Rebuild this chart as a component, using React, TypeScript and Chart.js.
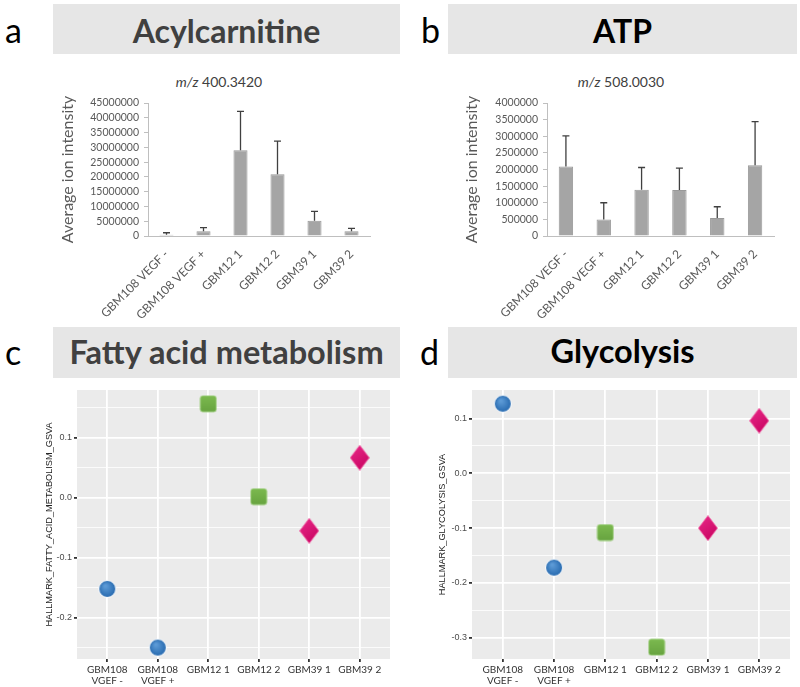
import React, { useEffect, useRef } from "react";
import { Chart, registerables } from "chart.js";

Chart.register(...registerables);

// ---------- data ----------
const barCategories = ["GBM108 VEGF -", "GBM108 VEGF +", "GBM12 1", "GBM12 2", "GBM39 1", "GBM39 2"];
const acylMeans = [450000, 1600000, 29050000, 20900000, 5200000, 1600000];
const acylErrors = [650000, 1200000, 13150000, 11200000, 3100000, 1000000];
const atpMeans = [2090000, 500000, 1390000, 1380000, 540000, 2130000];
const atpErrors = [920000, 500000, 670000, 660000, 340000, 1310000];

const scatterCategories: (string | string[])[] = [["GBM108", "VGEF -"], ["GBM108", "VGEF +"], "GBM12 1", "GBM12 2", "GBM39 1", "GBM39 2"];
const sampleGroups = [0, 0, 1, 1, 2, 2];
const fattyAcidGsva = [-0.152, -0.25, 0.157, 0.002, -0.055, 0.067];
const glycolysisGsva = [0.127, -0.172, -0.108, -0.317, -0.1, 0.096];

// ---------- plugins ----------
const errorBarPlugin = {
  id: "errorBars",
  afterDatasetsDraw(chart: any, _args: any, opts: any) {
    const ds = chart.data.datasets[0];
    const errs: number[] = opts.errors || [];
    const meta = chart.getDatasetMeta(0);
    const y = chart.scales.y;
    const ctx = chart.ctx;
    ctx.save();
    ctx.strokeStyle = "#404040";
    ctx.lineWidth = 1.3;
    meta.data.forEach((el: any, i: number) => {
      const top = y.getPixelForValue(ds.data[i] + errs[i]);
      ctx.beginPath();
      ctx.moveTo(el.x, el.y);
      ctx.lineTo(el.x, top);
      ctx.moveTo(el.x - 3.5, top);
      ctx.lineTo(el.x + 3.5, top);
      ctx.stroke();
    });
    ctx.restore();
  },
};

const panelBgPlugin = {
  id: "panelBg",
  beforeDraw(chart: any, _args: any, opts: any) {
    const { ctx, chartArea: a } = chart;
    if (!a) return;
    ctx.save();
    ctx.fillStyle = opts.color || "#ebebeb";
    ctx.fillRect(a.left, a.top, a.right - a.left, a.bottom - a.top);
    ctx.restore();
  },
};

// ---------- marker images ----------
function makeMarkers() {
  const circle = document.createElement("canvas");
  circle.width = 20; circle.height = 20;
  let c = circle.getContext("2d")!;
  let g = c.createRadialGradient(8, 7, 1, 10, 10, 9);
  g.addColorStop(0, "#5c9ad6");
  g.addColorStop(1, "#2467ad");
  c.beginPath(); c.arc(10, 10, 8.5, 0, Math.PI * 2);
  c.fillStyle = g; c.fill();
  c.lineWidth = 1; c.strokeStyle = "#ffffff"; c.stroke();

  const square = document.createElement("canvas");
  square.width = 18; square.height = 18;
  c = square.getContext("2d")!;
  g = c.createLinearGradient(0, 0, 0, 18);
  g.addColorStop(0, "#7dbb50");
  g.addColorStop(1, "#66a23f");
  c.fillStyle = g;
  const r = 2.5;
  c.beginPath();
  c.moveTo(1 + r, 1); c.lineTo(17 - r, 1); c.quadraticCurveTo(17, 1, 17, 1 + r);
  c.lineTo(17, 17 - r); c.quadraticCurveTo(17, 17, 17 - r, 17);
  c.lineTo(1 + r, 17); c.quadraticCurveTo(1, 17, 1, 17 - r);
  c.lineTo(1, 1 + r); c.quadraticCurveTo(1, 1, 1 + r, 1);
  c.fill();
  c.strokeStyle = "#9fcf7f"; c.lineWidth = 0.8; c.stroke();

  const diamond = document.createElement("canvas");
  diamond.width = 20; diamond.height = 26;
  c = diamond.getContext("2d")!;
  g = c.createLinearGradient(0, 0, 20, 26);
  g.addColorStop(0, "#ea2a8a");
  g.addColorStop(1, "#c4005c");
  c.beginPath();
  c.moveTo(10, 0.5); c.lineTo(19.5, 13); c.lineTo(10, 25.5); c.lineTo(0.5, 13); c.closePath();
  c.fillStyle = g; c.fill();
  c.strokeStyle = "#f05aa0"; c.lineWidth = 0.8; c.stroke();
  return [circle, square, diamond];
}

// ---------- configs ----------
function barConfig(means: number[], errors: number[], max: number, step: number, padLeft: number, yWidth: number, padRight: number) {
  return {
    type: "bar",
    data: {
      labels: barCategories,
      datasets: [{
        data: means,
        backgroundColor: "#a5a5a5",
        borderColor: "#999999",
        borderWidth: 1,
        barPercentage: 0.38,
        categoryPercentage: 1,
      }],
    },
    options: {
      responsive: false,
      animation: false,
      devicePixelRatio: 1,
      layout: { padding: { left: padLeft, right: padRight, top: 43, bottom: 0 } },
      plugins: {
        legend: { display: false },
        tooltip: { enabled: false },
        errorBars: { errors },
      },
      scales: {
        x: {
          grid: { display: false },
          border: { display: true, color: "#bfbfbf" },
          ticks: { minRotation: 45, maxRotation: 45, color: "#595959", font: { family: "Lato", size: 12 }, padding: 3, autoSkip: false },
          afterFit: (s: any) => { s.height = 84; },
        },
        y: {
          min: 0,
          max,
          grid: { drawOnChartArea: false, drawTicks: true, tickLength: 4, color: "#bfbfbf" },
          border: { display: true, color: "#bfbfbf" },
          ticks: { stepSize: step, autoSkip: false, color: "#595959", font: { family: "Lato", size: 10.5 }, padding: 5, callback: (v: any) => String(v) },
          title: { display: true, text: "Average ion intensity", color: "#595959", font: { family: "Lato", size: 16 }, padding: { top: 0, bottom: 0 } },
          afterFit: (s: any) => { s.width = yWidth; },
        },
      },
    },
    plugins: [errorBarPlugin],
  };
}

function scatterConfig(values: number[], yMin: number, yMax: number, yTitle: string, majors: number[], minors: number[], padLeft: number, yWidth: number, padRight: number, markers: HTMLCanvasElement[]) {
  const isMajor = (v: number) => majors.some((m) => Math.abs(m - v) < 1e-9);
  return {
    type: "scatter",
    data: {
      datasets: [{
        data: values.map((v, i) => ({ x: i + 1, y: v })),
        pointStyle: (ctx: any) => markers[sampleGroups[ctx.dataIndex] ?? 0],
        pointRadius: 9,
        clip: false,
      }],
    },
    options: {
      responsive: false,
      animation: false,
      devicePixelRatio: 1,
      layout: { padding: { left: padLeft, right: padRight, top: 8, bottom: 0 } },
      plugins: {
        legend: { display: false },
        tooltip: { enabled: false },
        panelBg: { color: "#ebebeb" },
      },
      scales: {
        x: {
          type: "linear",
          min: 0.4,
          max: 6.6,
          afterBuildTicks: (s: any) => { s.ticks = scatterCategories.map((_, i) => ({ value: i + 1 })); },
          grid: { color: "#ffffff", lineWidth: 1.8, tickColor: "#333333", tickLength: 3 },
          border: { display: false },
          ticks: {
            color: "#333333",
            font: { family: "Lato", size: 10, lineHeight: 1.1 },
            padding: 2,
            maxRotation: 0,
            autoSkip: false,
            callback: (v: any) => scatterCategories[Math.round(v) - 1],
          },
          afterFit: (s: any) => { s.height = 28; },
        },
        y: {
          min: yMin,
          max: yMax,
          afterBuildTicks: (s: any) => { s.ticks = [...majors, ...minors].sort((a, b) => a - b).map((v) => ({ value: v })); },
          grid: {
            color: "#ffffff",
            lineWidth: (ctx: any) => (ctx.tick && isMajor(ctx.tick.value) ? 1.8 : 0.8),
            tickColor: (ctx: any) => (ctx.tick && isMajor(ctx.tick.value) ? "#333333" : "rgba(0,0,0,0)"),
            tickLength: 3,
          },
          border: { display: false },
          ticks: {
            color: "#4d4d4d",
            font: { family: "Liberation Sans", size: 9 },
            padding: 2,
            autoSkip: false,
            callback: (v: any) => (isMajor(v) ? Number(v).toFixed(1) : ""),
          },
          title: { display: true, text: yTitle, color: "#222222", font: { family: "Liberation Sans", size: 9.2 }, padding: { top: 0, bottom: 0 } },
          afterFit: (s: any) => { s.width = yWidth; },
        },
      },
    },
    plugins: [panelBgPlugin],
  };
}

// ---------- components ----------
function ChartCanvas({ left, top, width, height, make }: { left: number; top: number; width: number; height: number; make: () => any }) {
  const ref = useRef<HTMLCanvasElement>(null);
  useEffect(() => {
    const chart = new Chart(ref.current as HTMLCanvasElement, make());
    return () => chart.destroy();
  }, []);
  return <canvas ref={ref} width={width} height={height} style={{ position: "absolute", left, top, width, height }} />;
}

// baseline = top + 0.887 * size for Lato with line-height = size
function Banner({ left, top, width, height, text, color, size, baseline }: any) {
  return (
    <div style={{ position: "absolute", left, top, width, height, background: "#e6e6e6" }}>
      <div style={{ position: "absolute", left: 0, width, top: baseline - top - 0.887 * size, textAlign: "center", fontFamily: "Lato", fontWeight: 700, fontSize: size, lineHeight: `${size}px`, color }}>{text}</div>
    </div>
  );
}

function Letter({ left, baseline, text }: any) {
  const size = 34;
  return <div style={{ position: "absolute", left, top: baseline - 0.887 * size, fontFamily: "Lato", fontSize: size, lineHeight: `${size}px`, color: "#000" }}>{text}</div>;
}

function Sub({ cx, baseline, value }: any) {
  const size = 14;
  return (
    <div style={{ position: "absolute", left: cx - 100, top: baseline - 0.887 * size, width: 200, textAlign: "center", fontFamily: "Lato", fontSize: size, lineHeight: `${size}px`, color: "#404040" }}>
      <i>m/z</i> {value}
    </div>
  );
}

export default function App() {
  const markersRef = useRef<HTMLCanvasElement[] | null>(null);
  const getMarkers = () => {
    if (!markersRef.current) markersRef.current = makeMarkers();
    return markersRef.current;
  };
  return (
    <div style={{ position: "absolute", left: 0, top: 0, width: 800, height: 687, background: "#fff", overflow: "hidden" }}>
      <Letter left={5} baseline={43} text="a" />
      <Letter left={421} baseline={43} text="b" />
      <Letter left={5} baseline={365} text="c" />
      <Letter left={420} baseline={365} text="d" />
      <Banner left={53} top={4} width={347} height={50} text="Acylcarnitine" color="#404040" size={32} baseline={43} />
      <Banner left={448} top={4} width={349} height={50} text="ATP" color="#000000" size={32} baseline={43} />
      <Banner left={53} top={327} width={347} height={51} text="Fatty acid metabolism" color="#404040" size={32.5} baseline={365} />
      <Banner left={448} top={327} width={349} height={51} text="Glycolysis" color="#000000" size={32.5} baseline={364} />
      <Sub cx={219} baseline={87} value="400.3420" />
      <Sub cx={621} baseline={87} value="508.0030" />
      <ChartCanvas left={0} top={60} width={400} height={260} make={() => barConfig(acylMeans, acylErrors, 45000000, 5000000, 58, 90, 30)} />
      <ChartCanvas left={400} top={60} width={400} height={260} make={() => barConfig(atpMeans, atpErrors, 4000000, 500000, 62, 85, 26)} />
      <ChartCanvas left={0} top={380} width={400} height={307} make={() => scatterConfig(fattyAcidGsva, -0.269, 0.18, "HALLMARK_FATTY_ACID_METABOLISM_GSVA", [-0.2, -0.1, 0, 0.1], [-0.25, -0.15, -0.05, 0.05, 0.15], 44, 33, 1, getMarkers())} />
      <ChartCanvas left={400} top={380} width={400} height={307} make={() => scatterConfig(glycolysisGsva, -0.3386, 0.152, "HALLMARK_GLYCOLYSIS_GSVA", [-0.3, -0.2, -0.1, 0, 0.1], [-0.25, -0.15, -0.05, 0.05], 37, 35, 7, getMarkers())} />
    </div>
  );
}
